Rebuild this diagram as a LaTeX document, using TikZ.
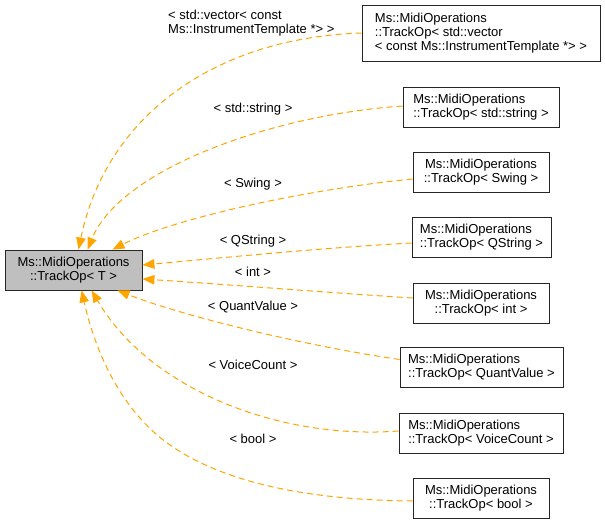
\documentclass[tikz,border=0pt]{standalone}
\usepackage{fontspec}
\setmainfont{Liberation Sans}
\usetikzlibrary{arrows.meta}
\definecolor{edgeorange}{HTML}{FFA500}
\definecolor{basegray}{HTML}{BFBFBF}
\begin{document}
\begin{tikzpicture}[x=1pt,y=-1pt,
  box/.style={draw=black!85,line width=0.9pt,minimum height=40pt,inner sep=0pt,font=\fontsize{13}{14}\selectfont},
  lbl/.style={inner sep=0pt,font=\fontsize{13}{14}\selectfont},
  edge/.style={draw=edgeorange,line width=1pt,dash pattern=on 6pt off 4pt,-{Triangle[length=12pt,width=9.5pt,fill=edgeorange]}}]
\useasboundingbox (0,0) rectangle (605,525);
\fill[white] (0,0) rectangle (605,525);
% base node
\node[box,fill=basegray,minimum width=137pt,align=center] (base) at (73.5,270) {Ms::MidiOperations\\::TrackOp< T >};
% derived nodes
\node[box,minimum width=238pt,minimum height=56pt,align=left] (vec) at (481,33) {Ms::MidiOperations\\::TrackOp< std::vector\\< const Ms::InstrumentTemplate *> >};
\node[box,minimum width=156pt,align=left] (str) at (481,107) {Ms::MidiOperations\\::TrackOp< std::string >};
\node[box,minimum width=136pt,align=center] (swing) at (481,172) {Ms::MidiOperations\\::TrackOp< Swing >};
\node[box,minimum width=139pt,align=left] (qstr) at (481.5,237) {Ms::MidiOperations\\::TrackOp< QString >};
\node[box,minimum width=136pt,align=center] (int) at (481,303) {Ms::MidiOperations\\::TrackOp< int >};
\node[box,minimum width=163pt,align=left] (qv) at (481.5,367.5) {Ms::MidiOperations\\::TrackOp< QuantValue >};
\node[box,minimum width=164pt,align=left] (vc) at (481,433) {Ms::MidiOperations\\::TrackOp< VoiceCount >};
\node[box,minimum width=136pt,align=center] (bool) at (481,498) {Ms::MidiOperations\\::TrackOp< bool >};
% edges
\draw[edge] (vec.west) .. controls (210,38) and (105,120) .. ([xshift=74pt]base.north west);
\draw[edge] ([yshift=1pt]str.west) .. controls (270,115) and (120,170) .. ([xshift=83pt]base.north west);
\draw[edge] ([yshift=-7pt]swing.west) .. controls (300,190) and (170,220) .. ([xshift=108pt]base.north west);
\draw[edge] ([yshift=-6pt]qstr.west) .. controls (320,248) and (220,258) .. ([yshift=5pt]base.east);
\draw[edge] ([yshift=5pt]int.west) .. controls (320,292) and (220,284) .. ([yshift=-9pt]base.east);
\draw[edge] ([yshift=8pt]qv.west) .. controls (300,345) and (180,315) .. ([xshift=113pt]base.south west);
\draw[edge] ([yshift=2pt]vc.west) .. controls (280,440) and (150,390) .. ([xshift=87pt]base.south west);
\draw[edge] ([yshift=-3pt]bool.west) .. controls (300,500) and (220,480) .. (170,445) .. controls (120,410) and (95,350) .. ([xshift=77pt]base.south west);
% labels
\node[lbl,align=left,anchor=north west] (lvec) at (168,10) {< std::vector< const\\Ms::InstrumentTemplate *> >};
\node[lbl] (lstr) at (253,109) {< std::string >};
\node[lbl] (lswing) at (253,184) {< Swing >};
\node[lbl] (lqstr) at (253,241) {< QString >};
\node[lbl] (lint) at (253,272) {< int >};
\node[lbl] (lqv) at (253,307) {< QuantValue >};
\node[lbl] (lvc) at (253,365) {< VoiceCount >};
\node[lbl] (lbool) at (253,439) {< bool >};
\end{tikzpicture}
\end{document}
